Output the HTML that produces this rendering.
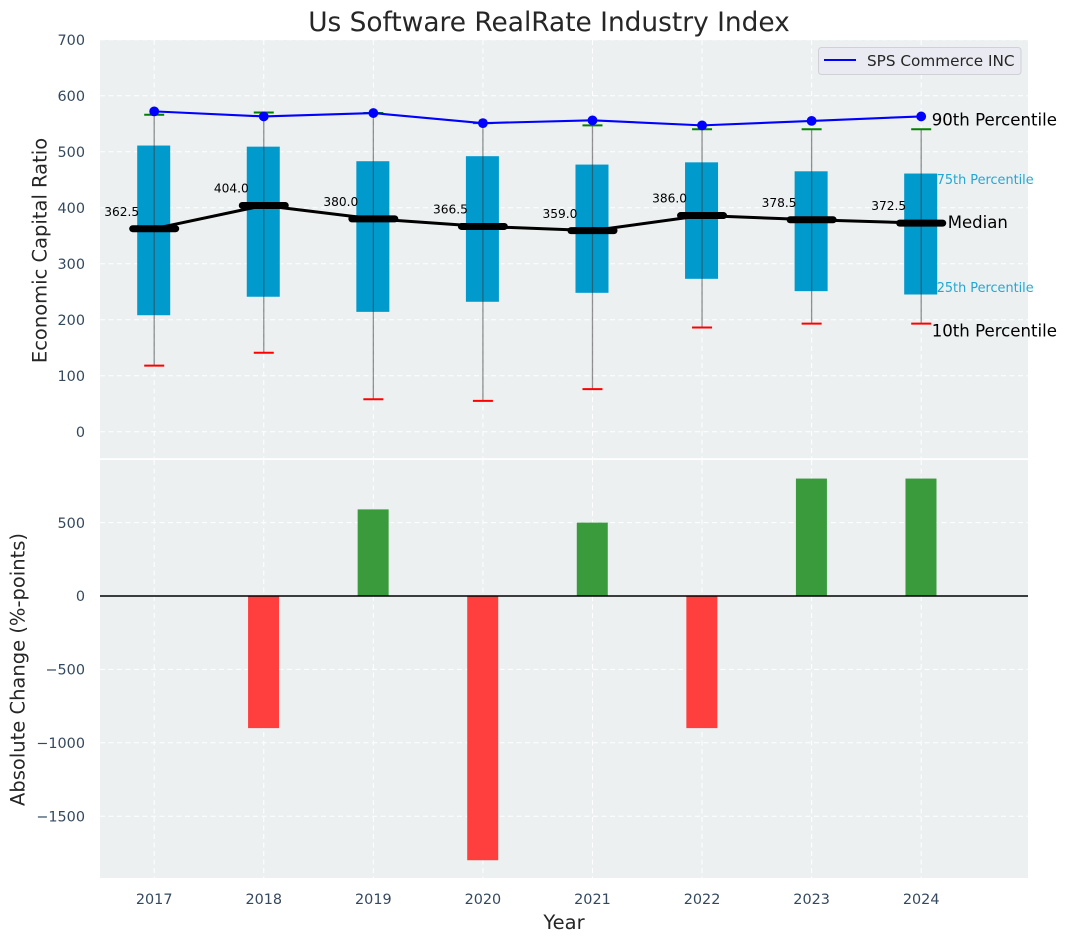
<!DOCTYPE html>
<html>
<head>
<meta charset="utf-8">
<title>Us Software RealRate Industry Index</title>
<style>
html,body{margin:0;padding:0;background:#fff}
svg{display:block;font-family:"DejaVu Sans","Liberation Sans",sans-serif}
</style>
</head>
<body>
<svg id="chart" xmlns="http://www.w3.org/2000/svg" width="1067" height="942" viewBox="0 0 1067 942">
  <rect x="100" y="40" width="928" height="418.2" fill="#ecf0f1"/>
  <rect x="100" y="460" width="928" height="418" fill="#ecf0f1"/>
  <g id="grid"></g>
  <g id="bars"></g>
  <g id="boxes"></g>
  <g id="whiskers"></g>
  <g id="lines"></g>
  <g id="labels"></g>
  <g id="ticks"></g>
  <g id="notes"></g>
  <text x="549" y="31" text-anchor="middle" font-size="26.4" fill="#262626">Us Software RealRate Industry Index</text>
  <text transform="translate(46.5,250.5) rotate(-90)" text-anchor="middle" font-size="19.5" fill="#262626">Economic Capital Ratio</text>
  <text transform="translate(24.5,669.5) rotate(-90)" text-anchor="middle" font-size="19.5" fill="#262626">Absolute Change (%-points)</text>
  <text x="564" y="929" text-anchor="middle" font-size="19.5" fill="#262626">Year</text>
  <g>
    <rect x="818.5" y="47.5" width="202.5" height="27" rx="3" fill="#eaeaf2" stroke="#d0d0d6" stroke-width="1"/>
    <line x1="824" y1="60" x2="856" y2="60" stroke="#0000ff" stroke-width="2"/>
    <text x="867" y="66" font-size="15.25" fill="#262626">SPS Commerce INC</text>
  </g>
</svg>
<script>
const years = [2017, 2018, 2019, 2020, 2021, 2022, 2023, 2024];
const p90 = [566, 570, 569, 551, 547, 540, 540, 540];
const p75 = [511, 509, 483, 492, 477, 481, 465, 461];
const medians = [362.5, 404, 380, 366.5, 359, 386, 378.5, 372.5];
const p25 = [208, 241, 214, 232, 248, 273, 251, 245];
const p10 = [118, 141, 58, 55, 76, 186, 193, 193];
const company = [572, 563, 569, 551, 556, 547, 555, 563];
const changes = [0, -900, 590, -1800, 500, -900, 800, 800];
const topTicks = [0, 100, 200, 300, 400, 500, 600, 700];
const bottomTicks = [-1500, -1000, -500, 0, 500];

const NS = 'http://www.w3.org/2000/svg';
const xAxis = v => 154.2 + (v - 2017) * 109.57;
const yTop = v => 431.7 - v * 0.56;
const yBottom = v => 596 - v * 0.1468;
function mk(parent, tag, attrs, text) {
  const el = document.createElementNS(NS, tag);
  for (const k in attrs) el.setAttribute(k, attrs[k]);
  if (text !== undefined) el.textContent = text;
  document.getElementById(parent).appendChild(el);
  return el;
}
const dash = '5 3.5';
const tickColor = '#34495e';

years.forEach(y => {
  const a = mk('grid', 'line', {x1: xAxis(y), x2: xAxis(y), y1: 40, y2: 458, stroke: '#fff', 'stroke-width': 1, 'stroke-dasharray': dash});
  
  
  const b = mk('grid', 'line', {x1: xAxis(y), x2: xAxis(y), y1: 460, y2: 878, stroke: '#fff', 'stroke-width': 1, 'stroke-dasharray': dash});
  
  
  const t = mk('ticks', 'text', {x: xAxis(y), y: 904, 'text-anchor': 'middle', 'font-size': 14.4, fill: tickColor}, String(y));
  
  
});
topTicks.forEach(v => {
  const g = mk('grid', 'line', {x1: 100, x2: 1028, y1: yTop(v), y2: yTop(v), stroke: '#fff', 'stroke-width': 1, 'stroke-dasharray': dash});
  
  
  const t = mk('ticks', 'text', {x: 85, y: yTop(v) + 5.2, 'text-anchor': 'end', 'font-size': 14.4, fill: tickColor}, String(v));
  
  
});
bottomTicks.forEach(v => {
  const g = mk('grid', 'line', {x1: 100, x2: 1028, y1: yBottom(v), y2: yBottom(v), stroke: '#fff', 'stroke-width': 1, 'stroke-dasharray': dash});
  
  
  const t = mk('ticks', 'text', {x: 85, y: yBottom(v) + 5.2, 'text-anchor': 'end', 'font-size': 14.4, fill: tickColor}, String(v).replace('-', '\u2212'));
  
  
});

changes.forEach((v, i) => {
  if (v === 0) return;
  const r = mk('bars', 'rect', {x: xAxis(years[i]) - 15.7, width: 31, y: Math.min(yBottom(0), yBottom(v)), height: Math.abs(yBottom(v) - yBottom(0)), fill: v > 0 ? '#3a9b3c' : '#ff3e3e'});
  
  
});
const zero = mk('bars', 'line', {x1: 100, x2: 1028, y1: yBottom(0), y2: yBottom(0), stroke: '#000', 'stroke-width': 1.4});



years.forEach((y, i) => {
  const cx = xAxis(y);
  const b = mk('boxes', 'rect', {x: cx - 17, width: 33, y: yTop(p75[i]), height: yTop(p25[i]) - yTop(p75[i]), fill: '#009acd'});
  
  
  const w = mk('whiskers', 'line', {x1: cx, x2: cx, y1: yTop(p90[i]), y2: yTop(p10[i]), stroke: '#3a3a3a', 'stroke-opacity': 0.55, 'stroke-width': 1.3});
  
  
  const hi = mk('whiskers', 'line', {x1: cx - 10, x2: cx + 10, y1: yTop(p90[i]), y2: yTop(p90[i]), stroke: '#008000', 'stroke-width': 2});
  
  
  const lo = mk('whiskers', 'line', {x1: cx - 10, x2: cx + 10, y1: yTop(p10[i]), y2: yTop(p10[i]), stroke: '#ff0000', 'stroke-width': 2});
  
  
});

const medianLine = mk('lines', 'polyline', {fill: 'none', stroke: '#000', 'stroke-width': 3, points: years.map((y, i) => xAxis(y) + ',' + yTop(medians[i])).join(' ')});


years.forEach((y, i) => {
  const m = mk('lines', 'line', {x1: xAxis(y) - 21.5, x2: xAxis(y) + 21.5, y1: yTop(medians[i]), y2: yTop(medians[i]), stroke: '#000', 'stroke-width': 7, 'stroke-linecap': 'round'});
  
  
  const t = mk('labels', 'text', {x: xAxis(y) - 32.5, y: yTop(medians[i]) - 12.9, 'text-anchor': 'middle', 'font-size': 12.2, fill: '#000'}, medians[i].toFixed(1));
  
  
});
const companyLine = mk('lines', 'polyline', {fill: 'none', stroke: '#0000ff', 'stroke-width': 2.1, points: years.map((y, i) => xAxis(y) + ',' + yTop(company[i])).join(' ')});


years.forEach((y, i) => {
  const c = mk('lines', 'circle', {cx: xAxis(y), cy: yTop(company[i]), r: 4.9, fill: '#0000ff'});
  
  
});

const last = years.length - 1;
const lx = xAxis(years[last]);
const n90 = mk('notes', 'text', {x: lx + 10.5, y: yTop(p90[last]) - 4, 'font-size': 16.6, fill: '#000'}, '90th Percentile');


const n75 = mk('notes', 'text', {x: lx + 15.5, y: yTop(p75[last]) + 10.5, 'font-size': 12.85, fill: '#009acd', 'fill-opacity': 0.85}, '75th Percentile');


const n50 = mk('notes', 'text', {x: lx + 26.5, y: yTop(medians[last]) + 5, 'font-size': 16.55, fill: '#000'}, 'Median');


const n25 = mk('notes', 'text', {x: lx + 15.5, y: yTop(p25[last]) - 2.5, 'font-size': 12.85, fill: '#009acd', 'fill-opacity': 0.85}, '25th Percentile');


const n10 = mk('notes', 'text', {x: lx + 10.5, y: yTop(p10[last]) + 13, 'font-size': 16.6, fill: '#000'}, '10th Percentile');


</script>
</body>
</html>
